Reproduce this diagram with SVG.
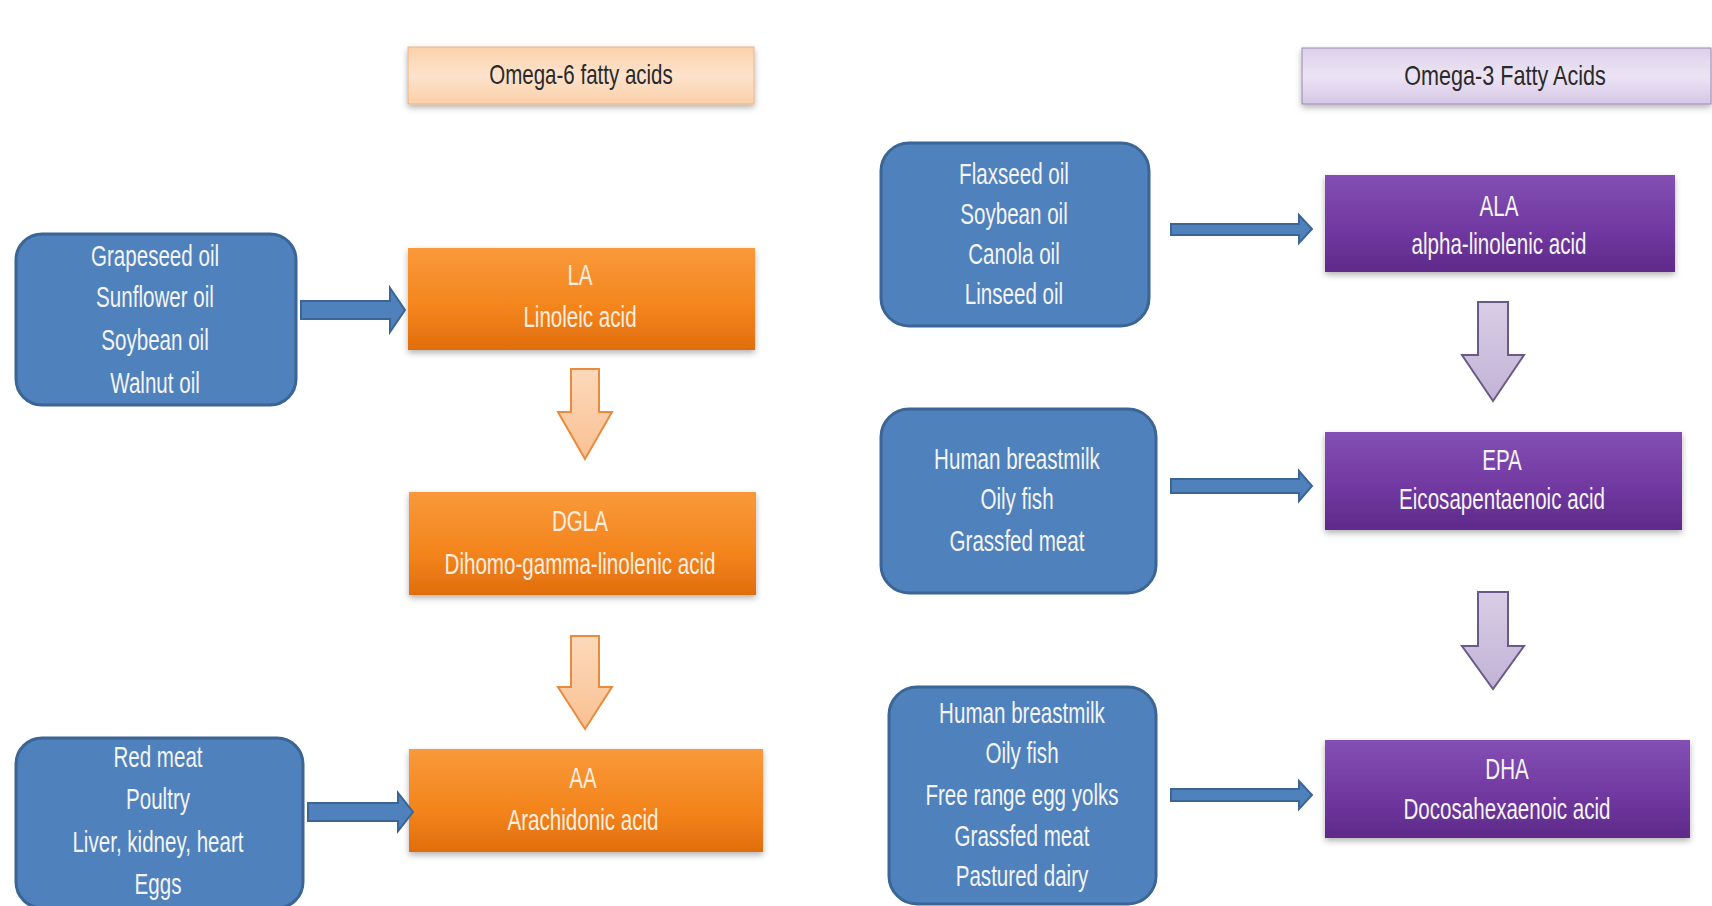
<svg xmlns="http://www.w3.org/2000/svg" width="1712" height="906" viewBox="0 0 1712 906">
<defs>
<linearGradient id="gOrange" x1="0" y1="0" x2="0" y2="1">
<stop offset="0" stop-color="#f9993a"/><stop offset="0.6" stop-color="#f3841c"/><stop offset="1" stop-color="#e06d0c"/>
</linearGradient>
<linearGradient id="gPurple" x1="0" y1="0" x2="0" y2="1">
<stop offset="0" stop-color="#8450b4"/><stop offset="0.6" stop-color="#6f379f"/><stop offset="1" stop-color="#5e2a89"/>
</linearGradient>
<linearGradient id="gPeach" x1="0" y1="0" x2="0" y2="1">
<stop offset="0" stop-color="#fbd0aa"/><stop offset="0.5" stop-color="#fde3cc"/><stop offset="1" stop-color="#fbcfa8"/>
</linearGradient>
<linearGradient id="gLav" x1="0" y1="0" x2="0" y2="1">
<stop offset="0" stop-color="#ddd0ea"/><stop offset="0.5" stop-color="#ece4f4"/><stop offset="1" stop-color="#d6c7e6"/>
</linearGradient>
<linearGradient id="gPeachArrow" x1="0" y1="0" x2="0" y2="1">
<stop offset="0" stop-color="#fcd9bb"/><stop offset="1" stop-color="#f9c092"/>
</linearGradient>
<linearGradient id="gLavArrow" x1="0" y1="0" x2="0" y2="1">
<stop offset="0" stop-color="#d8cde6"/><stop offset="1" stop-color="#c2b3d6"/>
</linearGradient>
<filter id="sh" x="-10%" y="-10%" width="120%" height="130%">
<feDropShadow dx="0" dy="3" stdDeviation="3" flood-color="#000" flood-opacity="0.3"/>
</filter>
</defs>
<style>
.src{fill:#4f81bd;stroke:#3a6594;stroke-width:3}
.om6{fill:url(#gOrange)}
.om3{fill:url(#gPurple)}
.h6{fill:url(#gPeach);stroke:#e8b48a;stroke-width:1}
.h3{fill:url(#gLav);stroke:#9a8aae;stroke-width:1}
.barrow{fill:#4f81bd;stroke:#3a6594;stroke-width:2}
.parrow{fill:url(#gPeachArrow);stroke:#e98a3c;stroke-width:2}
.larrow{fill:url(#gLavArrow);stroke:#6a5a88;stroke-width:2}
text{font-family:"Liberation Sans",Arial,sans-serif;text-anchor:middle}
.t{font-size:29px;fill:#f4f4f4}
.tc{font-size:29px;fill:#fbeee0}
.th{font-size:27px;fill:#2a2a2a}
</style>
<rect width="1712" height="906" fill="#ffffff"/>

<g id="header-omega6">
<rect class="h6" x="408" y="47" width="346" height="57" filter="url(#sh)"/>
<g transform="translate(581,0) scale(0.76,1)"><text class="th" x="0" y="84">Omega-6 fatty acids</text></g>
</g>
<g id="header-omega3">
<rect class="h3" x="1302" y="48" width="409" height="56" filter="url(#sh)"/>
<g transform="translate(1505,0) scale(0.8,1)"><text class="th" x="0" y="85">Omega-3 Fatty Acids</text></g>
</g>

<g id="src-omega6-veg">
<rect class="src" x="16" y="234" width="280" height="171" rx="26"/>
<g transform="translate(155,0) scale(0.71,1)">
<text class="t" x="0" y="266">Grapeseed oil</text>
<text class="t" x="0" y="307">Sunflower oil</text>
<text class="t" x="0" y="350">Soybean oil</text>
<text class="t" x="0" y="393">Walnut oil</text>
</g>
</g>
<g id="src-omega6-meat">
<rect class="src" x="16" y="738" width="287" height="170" rx="26"/>
<g transform="translate(158,0) scale(0.71,1)">
<text class="t" x="0" y="767">Red meat</text>
<text class="t" x="0" y="809">Poultry</text>
<text class="t" x="0" y="852">Liver, kidney, heart</text>
<text class="t" x="0" y="894">Eggs</text>
</g>
</g>

<g id="la">
<rect class="om6" x="408" y="248" width="347" height="102" filter="url(#sh)"/>
<g transform="translate(580,0) scale(0.71,1)">
<text class="tc" x="0" y="285">LA</text>
<text class="tc" x="0" y="327">Linoleic acid</text>
</g>
</g>
<g id="dgla">
<rect class="om6" x="409" y="492" width="347" height="103" filter="url(#sh)"/>
<g transform="translate(580,0) scale(0.71,1)">
<text class="tc" x="0" y="531">DGLA</text>
<text class="tc" x="0" y="574">Dihomo-gamma-linolenic acid</text>
</g>
</g>
<g id="aa">
<rect class="om6" x="409" y="749" width="354" height="103" filter="url(#sh)"/>
<g transform="translate(583,0) scale(0.71,1)">
<text class="tc" x="0" y="788">AA</text>
<text class="tc" x="0" y="830">Arachidonic acid</text>
</g>
</g>

<g id="src-omega3-veg">
<rect class="src" x="881" y="143" width="268" height="183" rx="28"/>
<g transform="translate(1014,0) scale(0.71,1)">
<text class="t" x="0" y="184">Flaxseed oil</text>
<text class="t" x="0" y="224">Soybean oil</text>
<text class="t" x="0" y="264">Canola oil</text>
<text class="t" x="0" y="304">Linseed oil</text>
</g>
</g>
<g id="src-omega3-epa">
<rect class="src" x="881" y="409" width="275" height="184" rx="28"/>
<g transform="translate(1017,0) scale(0.71,1)">
<text class="t" x="0" y="469">Human breastmilk</text>
<text class="t" x="0" y="509">Oily fish</text>
<text class="t" x="0" y="551">Grassfed meat</text>
</g>
</g>
<g id="src-omega3-dha">
<rect class="src" x="889" y="687" width="267" height="217" rx="28"/>
<g transform="translate(1022,0) scale(0.71,1)">
<text class="t" x="0" y="723">Human breastmilk</text>
<text class="t" x="0" y="763">Oily fish</text>
<text class="t" x="0" y="805">Free range egg yolks</text>
<text class="t" x="0" y="846">Grassfed meat</text>
<text class="t" x="0" y="886">Pastured dairy</text>
</g>
</g>

<g id="ala">
<rect class="om3" x="1325" y="175" width="350" height="97" filter="url(#sh)"/>
<g transform="translate(1499,0) scale(0.71,1)">
<text class="t" x="0" y="216">ALA</text>
<text class="t" x="0" y="254">alpha-linolenic acid</text>
</g>
</g>
<g id="epa">
<rect class="om3" x="1325" y="432" width="357" height="98" filter="url(#sh)"/>
<g transform="translate(1502,0) scale(0.71,1)">
<text class="t" x="0" y="470">EPA</text>
<text class="t" x="0" y="509">Eicosapentaenoic acid</text>
</g>
</g>
<g id="dha">
<rect class="om3" x="1325" y="740" width="365" height="98" filter="url(#sh)"/>
<g transform="translate(1507,0) scale(0.71,1)">
<text class="t" x="0" y="779">DHA</text>
<text class="t" x="0" y="819">Docosahexaenoic acid</text>
</g>
</g>

<g id="connectors">
<polygon class="barrow" points="301,301 390,301 390,288 405,310 390,332 390,319 301,319"/>
<polygon class="barrow" points="308,803 398,803 398,793 413,812 398,831 398,821 308,821"/>
<polygon class="barrow" points="1171,224 1299,224 1299,215 1312,229 1299,243 1299,235 1171,235"/>
<polygon class="barrow" points="1171,479 1299,479 1299,471 1312,486 1299,501 1299,493 1171,493"/>
<polygon class="barrow" points="1171,789 1299,789 1299,781 1312,795 1299,809 1299,801 1171,801"/>
<polygon class="parrow" points="571,369 599,369 599,412 612,412 585,459 558,412 571,412"/>
<polygon class="parrow" points="571,636 599,636 599,687 612,687 585,729 558,687 571,687"/>
<polygon class="larrow" points="1478,302 1508,302 1508,355 1524,355 1493,401 1462,355 1478,355"/>
<polygon class="larrow" points="1478,592 1508,592 1508,646 1524,646 1493,689 1462,646 1478,646"/>
</g>
</svg>
